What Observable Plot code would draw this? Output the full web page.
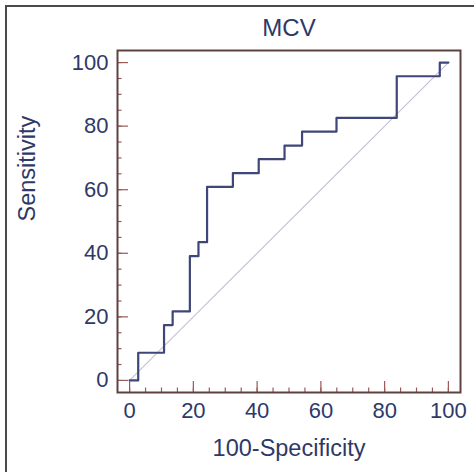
<!DOCTYPE html>
<html>
<head>
<meta charset="utf-8">
<script src="https://cdn.jsdelivr.net/npm/d3@7"></script>
<script src="https://cdn.jsdelivr.net/npm/@observablehq/plot@0.6"></script>
<style>
  html, body { margin: 0; padding: 0; background: #fff; }
  #wrap { position: relative; width: 474px; height: 472px; overflow: hidden; }
  #border { position: absolute; left: 5px; top: 5px; right: -10px; bottom: -10px;
            border-left: 2px solid #4a4a4a; border-top: 2px solid #4a4a4a; pointer-events: none; }
</style>
</head>
<body>
<div id="wrap"><div id="chart"></div><div id="border"></div></div>
<script>
const title = "MCV";
const xLabel = "100-Specificity";
const yLabel = "Sensitivity";
const fpr = [0, 2.7, 10.8, 13.5, 18.9, 21.6, 24.3, 32.4, 40.5, 48.6, 54.1, 64.9, 83.8, 97.3, 100];
const tpr = [0, 8.7, 17.4, 21.7, 39.1, 43.5, 60.9, 65.2, 69.6, 73.9, 78.3, 82.6, 95.7, 100, 100];
const majorTicks = [0, 20, 40, 60, 80, 100];
const minorTicks = d3.range(0, 101, 5);
const diagonal = [0, 100];

const roc = fpr.map((x, i) => ({x, y: tpr[i]}));
const diag = diagonal.map(v => ({x: v, y: v}));

const textColor = "#2e3968";
const tickColor = "#9b5a56";
const font = "Liberation Sans, Arial, sans-serif";

const chart = Plot.plot({
  width: 474,
  height: 472,
  marginLeft: 117,
  marginRight: 14,
  marginTop: 50,
  marginBottom: 80,
  style: {fontFamily: font, background: "transparent"},
  x: {domain: [-3.8, 103.8]},
  y: {domain: [-3.8, 103.8]},
  marks: [
    Plot.line(diag, {x: "x", y: "y", stroke: "#c4bfd4", strokeWidth: 1.1}),
    Plot.line(roc, {x: "x", y: "y", curve: "step-after", stroke: "#3f4678", strokeWidth: 2.2}),
    Plot.axisX(minorTicks, {tickSize: -4.5, fill: "none", stroke: tickColor, strokeWidth: 1.2, label: null}),
    Plot.axisY(minorTicks, {tickSize: -4.5, fill: "none", stroke: tickColor, strokeWidth: 1.2, label: null}),
    Plot.axisX(majorTicks, {tickSize: -11, fill: "none", stroke: tickColor, strokeWidth: 1.2, label: null}),
    Plot.axisY(majorTicks, {tickSize: -11, fill: "none", stroke: tickColor, strokeWidth: 1.2, label: null}),
    Plot.axisX(majorTicks, {tickSize: 0, tickPadding: 10, fontSize: 22, fill: textColor, label: null}),
    Plot.axisY(majorTicks, {tickSize: 0, tickPadding: 9, fontSize: 22, fill: textColor, label: null}),
    Plot.frame({stroke: "#5e4240", strokeWidth: 2}),
    Plot.text([title], {frameAnchor: "top", lineAnchor: "middle", dy: -22.5, text: d => d, fontSize: 24, fill: textColor}),
    Plot.text([xLabel], {frameAnchor: "bottom", lineAnchor: "middle", dy: 55.5, text: d => d, fontSize: 23.5, fill: textColor}),
    Plot.text([yLabel], {frameAnchor: "left", lineAnchor: "middle", dx: -90.5, rotate: -90, text: d => d, fontSize: 23.5, fill: textColor})
  ]
});
document.getElementById("chart").appendChild(chart);
</script>
</body>
</html>
